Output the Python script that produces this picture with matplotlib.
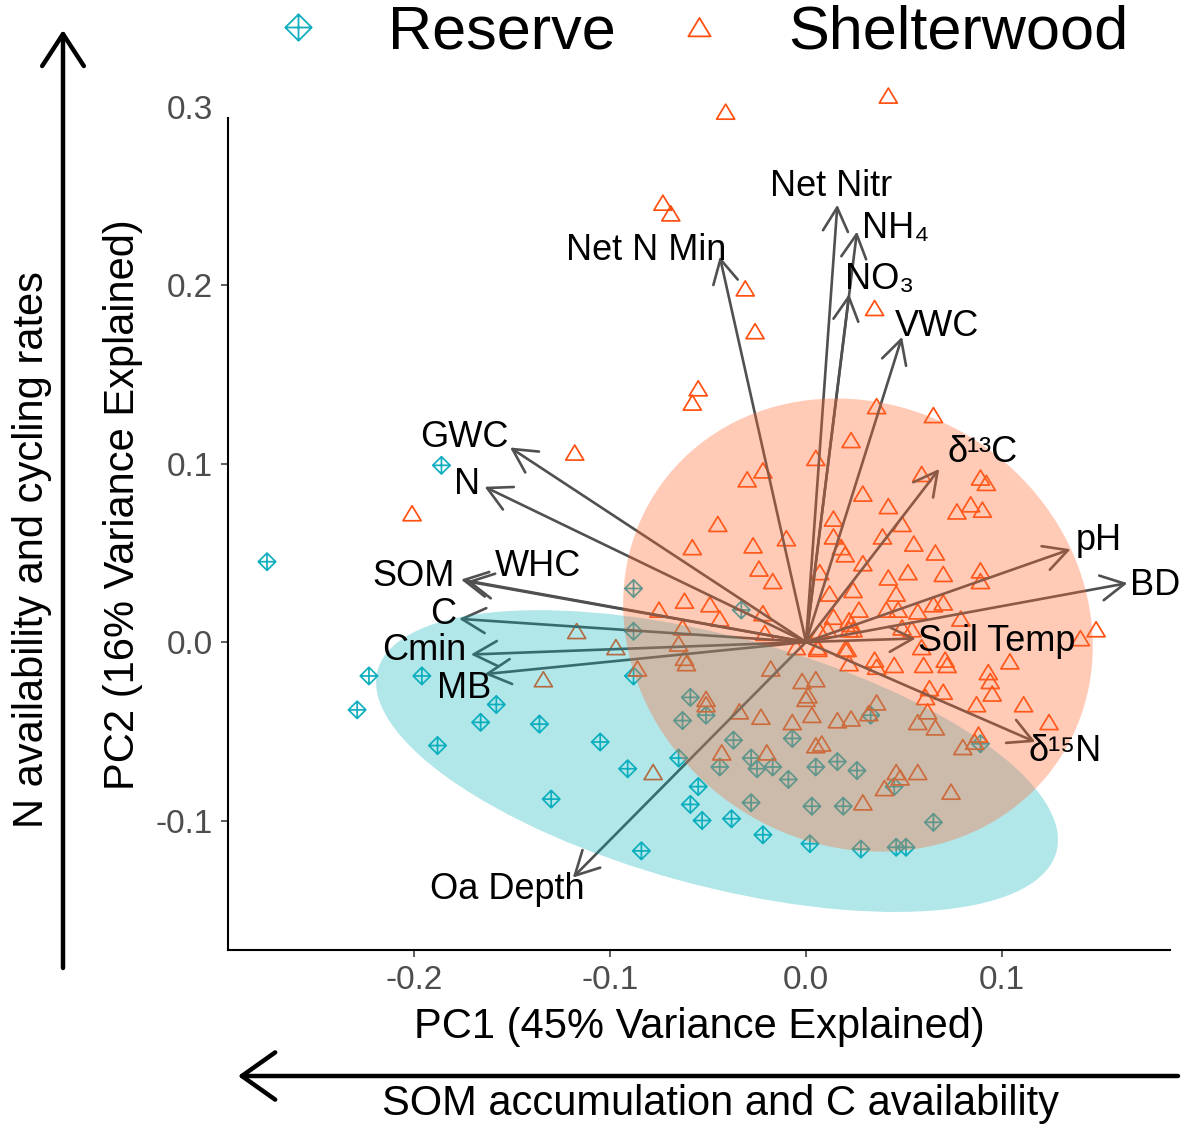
import numpy as np
import matplotlib.pyplot as plt
from matplotlib.path import Path
from matplotlib.patches import Ellipse
from matplotlib.lines import Line2D
from matplotlib.ticker import FormatStrFormatter

plt.rcParams['font.family'] = ['Liberation Sans', 'DejaVu Sans']
plt.rcParams['axes.unicode_minus'] = False

# PCA site scores
reserve_pc1 = [-0.275, -0.186, -0.223, -0.229, -0.196, -0.158, -0.166, -0.136, -0.188, -0.130,
               -0.105, -0.091, -0.065, -0.055, -0.059, -0.053, -0.038, -0.022, 0.002, -0.084,
               -0.088, -0.059, -0.051, -0.063, -0.037, -0.007, -0.044, -0.028, -0.025, -0.017,
               -0.009, 0.005, 0.016, 0.026, -0.028, 0.003, 0.019, 0.028, 0.033, 0.045,
               0.046, 0.051, 0.065, 0.089, -0.088, -0.033, -0.088]
reserve_pc2 = [0.045, 0.099, -0.019, -0.038, -0.019, -0.035, -0.045, -0.046, -0.058, -0.088,
               -0.056, -0.071, -0.065, -0.081, -0.091, -0.100, -0.099, -0.108, -0.113, -0.117,
               -0.019, -0.031, -0.041, -0.044, -0.055, -0.054, -0.070, -0.065, -0.071, -0.070,
               -0.077, -0.070, -0.067, -0.072, -0.090, -0.092, -0.092, -0.116, -0.041, -0.081,
               -0.115, -0.115, -0.101, -0.057, 0.030, 0.018, 0.006]

shelter_pc1 = [-0.041, 0.042, -0.073, -0.069, -0.031, -0.026, 0.035, -0.055, -0.058, -0.118,
               -0.201, -0.117, -0.134, -0.097, -0.078, -0.086, -0.030, -0.022, -0.045, -0.058,
               -0.027, -0.010, -0.024, -0.017, -0.075, -0.062, -0.049, -0.044, -0.022, -0.063,
               0.005, -0.021, 0.007, -0.065, -0.062, -0.061, -0.018, -0.005, 0.006, -0.002,
               0.005, 0.001, 0.000, -0.051, -0.051, -0.034, -0.023, -0.007, 0.003, 0.005,
               -0.043, -0.020, 0.016, 0.023, 0.036, 0.032, 0.008, 0.046, 0.048, 0.040,
               0.057, 0.029, 0.074, 0.057, 0.066, 0.080, 0.088, 0.086, 0.062, 0.045,
               0.035, 0.036, 0.060, 0.072, 0.071, 0.061, 0.070, 0.063, 0.087, 0.095,
               0.094, 0.093, 0.111, 0.104, 0.124, 0.059, 0.021, 0.006, 0.065, 0.023,
               0.059, 0.089, 0.092, 0.029, 0.042, 0.077, 0.084, 0.090, 0.014, 0.014,
               0.049, 0.039, 0.018, 0.020, 0.055, 0.066, 0.029, 0.042, 0.052, 0.070,
               0.089, 0.089, 0.012, 0.024, 0.046, 0.027, 0.041, 0.047, 0.057, 0.065,
               0.070, 0.079, 0.148, 0.140, 0.014, 0.022, 0.023, 0.007, 0.011, 0.022,
               0.024, 0.049, 0.054, 0.020, 0.022, 0.036]
shelter_pc2 = [0.297, 0.306, 0.246, 0.240, 0.198, 0.174, 0.187, 0.142, 0.134, 0.106,
               0.072, 0.006, -0.021, -0.003, -0.073, -0.015, 0.091, 0.096, 0.066, 0.053,
               0.054, 0.058, 0.041, 0.034, 0.018, 0.023, 0.021, 0.013, 0.016, 0.008,
               0.103, 0.005, 0.039, -0.001, -0.009, -0.012, -0.015, -0.003, -0.003, -0.022,
               -0.021, -0.030, -0.032, -0.032, -0.035, -0.039, -0.042, -0.045, -0.041, -0.058,
               -0.062, -0.062, -0.044, -0.043, -0.034, -0.040, -0.057, -0.073, -0.076, -0.082,
               -0.073, -0.090, -0.084, -0.045, -0.048, -0.059, -0.052, -0.056, -0.039, -0.013,
               -0.010, -0.014, -0.013, -0.013, -0.010, -0.031, -0.028, -0.026, -0.035, -0.029,
               -0.022, -0.017, -0.035, -0.011, -0.045, -0.003, -0.004, -0.004, 0.127, 0.113,
               0.094, 0.092, 0.089, 0.083, 0.076, 0.073, 0.077, 0.074, 0.069, 0.059,
               0.066, 0.059, 0.053, 0.049, 0.055, 0.050, 0.044, 0.036, 0.039, 0.038,
               0.040, 0.034, 0.027, 0.029, 0.027, 0.018, 0.018, 0.018, 0.017, 0.021,
               0.022, 0.013, 0.007, 0.002, 0.014, 0.012, 0.010, 0.006, 0.007, 0.007,
               0.007, 0.008, 0.007, -0.004, -0.012, 0.132]

# 95% group ellipses: centre, full axes, rotation (deg)
ell_center = {'Reserve': (-0.0454, -0.0667), 'Shelterwood': (0.0265, 0.0095)}
ell_axes = {'Reserve': (0.361, 0.139, -16.8), 'Shelterwood': (0.260, 0.233, -61.0)}

# variable loadings
var_names = ['Net Nitr', 'NH\u2084', 'NO\u2083', 'VWC', 'Net N Min', '\u03b4\u00b9\u00b3C', 'pH', 'BD',
             'Soil Temp', '\u03b4\u00b9\u2075N', 'Oa Depth', 'GWC', 'N', 'SOM', 'WHC', 'C', 'Cmin', 'MB']
load_pc1 = [0.016, 0.026, 0.022, 0.049, -0.044, 0.068, 0.135, 0.164, 0.056, 0.117,
            -0.119, -0.151, -0.164, -0.176, -0.173, -0.177, -0.171, -0.164]
load_pc2 = [0.245, 0.230, 0.195, 0.171, 0.216, 0.097, 0.052, 0.033, 0.002, -0.056,
            -0.132, 0.109, 0.087, 0.035, 0.034, 0.013, -0.007, -0.018]

# label placement (pixel offset from arrow tip, alignment)
lab_pos = {'Net Nitr': (-6, 18, 'center'), 'NH\u2084': (5, 3, 'left'), 'NO\u2083': (-4, 14, 'left'),
           'VWC': (-7, 10, 'left'), 'Net N Min': (7, 6, 'right'), '\u03b4\u00b9\u00b3C': (8, 16, 'left'),
           'pH': (5, 9, 'left'), 'BD': (3, -2, 'left'), 'Soil Temp': (2, -3, 'left'),
           '\u03b4\u00b9\u2075N': (-7, -10, 'left'), 'Oa Depth': (12, -12, 'right'),
           'GWC': (-1, 10, 'right'), 'N': (-4, 2, 'right'), 'SOM': (-6, 3, 'right'),
           'WHC': (28, 15, 'left'), 'C': (-3, 4, 'right'), 'Cmin': (-4, 4, 'right'), 'MB': (7, -14, 'right')}

teal = '#13AFC0'
orange = '#FF5010'

# marker shapes: diamond with a cross, open triangle
diamond_plus = Path([(0, 1), (1, 0), (0, -1), (-1, 0), (0, 1), (0, 1), (0, -1), (-1, 0), (1, 0)],
                    [Path.MOVETO, Path.LINETO, Path.LINETO, Path.LINETO, Path.CLOSEPOLY,
                     Path.MOVETO, Path.LINETO, Path.MOVETO, Path.LINETO])
triangle = Path([(-1, -0.8), (1, -0.8), (0, 0.86), (-1, -0.8)],
                [Path.MOVETO, Path.LINETO, Path.LINETO, Path.CLOSEPOLY])

fig = plt.figure(figsize=(11.83, 11.28), dpi=100)
ax = fig.add_axes([228 / 1183, 178 / 1128, 942 / 1183, 890 / 1128])

ax.scatter(reserve_pc1, reserve_pc2, marker=diamond_plus, s=156, facecolors='none',
           edgecolors=teal, linewidths=1.25, zorder=2)
ax.scatter(shelter_pc1, shelter_pc2, marker=triangle, s=169, facecolors='none',
           edgecolors=orange, linewidths=1.25, zorder=2)

for name, x, y in zip(var_names, load_pc1, load_pc2):
    ax.annotate('', xy=(x, y), xytext=(0, 0),
                arrowprops=dict(arrowstyle='->,head_length=17,head_width=9', mutation_scale=1,
                                lw=1.9, color='#505050', shrinkA=0, shrinkB=0), zorder=3)
    dx, dy, ha = lab_pos[name]
    ax.annotate(name, xy=(x, y), xytext=(dx, dy), textcoords='offset pixels',
                ha=ha, va='center', fontsize=26, color='black', zorder=5)

for grp, col, a in [('Reserve', '#00B0BA', 0.30), ('Shelterwood', '#FF6A33', 0.35)]:
    w, h, ang = ell_axes[grp]
    ax.add_patch(Ellipse(ell_center[grp], w, h, angle=ang, facecolor=col, edgecolor='none',
                         alpha=a, zorder=4))

ax.set_xlim(-0.2949, 0.1857)
ax.set_ylim(-0.17255, 0.3261)
ax.set_xticks([-0.2, -0.1, 0.0, 0.1])
ax.set_yticks([-0.1, 0.0, 0.1, 0.2, 0.3])
ax.xaxis.set_major_formatter(FormatStrFormatter('%.1f'))
ax.yaxis.set_major_formatter(FormatStrFormatter('%.1f'))
ax.tick_params(length=5, width=1.1, color='#333333', labelsize=24, labelcolor='#4D4D4D', pad=6)
ax.yaxis.get_major_ticks()[-1].tick1line.set_visible(False)

for s in ['top', 'right']:
    ax.spines[s].set_visible(False)
for s in ['left', 'bottom']:
    ax.spines[s].set_linewidth(1.5)
    ax.spines[s].set_color('black')
ax.spines['left'].set_bounds(-0.17255, 0.2936)

ax.set_xlabel('PC1 (45% Variance Explained)', fontsize=30)
ax.set_ylabel('PC2 (16% Variance Explained)', fontsize=30)
ax.xaxis.set_label_coords(0.5, -0.0865)
ax.yaxis.set_label_coords(-0.1115, 0.5)
ax.xaxis.label.set_va('center')
ax.yaxis.label.set_va('center')

# interpretation arrows along the axes
ax.annotate('', xy=(63, 1098), xytext=(63, 160), xycoords='figure pixels', textcoords='figure pixels',
            arrowprops=dict(arrowstyle='->,head_length=23,head_width=15', mutation_scale=1,
                            lw=3.2, color='black', shrinkA=0, shrinkB=0), annotation_clip=False)
ax.annotate('', xy=(238, 52), xytext=(1178, 52), xycoords='figure pixels', textcoords='figure pixels',
            arrowprops=dict(arrowstyle='->,head_length=24,head_width=17', mutation_scale=1,
                            lw=3.2, color='black', shrinkA=0, shrinkB=0), annotation_clip=False)
fig.text(32 / 1183, 1 - 550 / 1128, 'N availability and cycling rates', rotation=90,
         ha='center', va='center', fontsize=30)
fig.text(720 / 1183, 1 - 1104 / 1128, 'SOM accumulation and C availability',
         ha='center', va='center', fontsize=30)

handles = [Line2D([], [], linestyle='none', marker=diamond_plus, markersize=19, markerfacecolor='none',
                  markeredgecolor=teal, markeredgewidth=1.3),
           Line2D([], [], linestyle='none', marker=triangle, markersize=16, markerfacecolor='none',
                  markeredgecolor=orange, markeredgewidth=1.3)]
fig.legend(handles, ['Reserve', 'Shelterwood'], loc='center', bbox_to_anchor=(0.590, 0.9707),
           ncol=2, frameon=False, fontsize=44, handlelength=1.0, handletextpad=0.96,
           columnspacing=0.86, borderpad=0, borderaxespad=0)

fig.savefig('out.png', dpi=100)
